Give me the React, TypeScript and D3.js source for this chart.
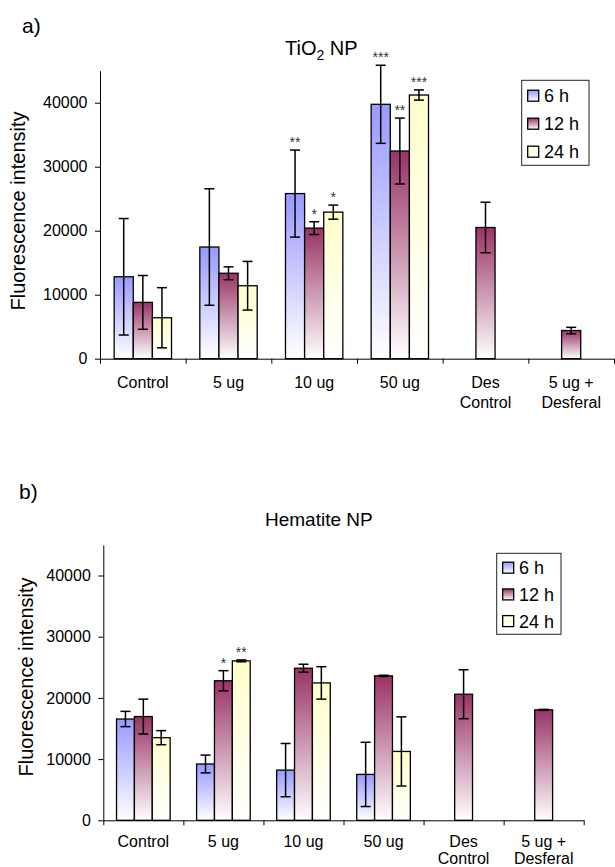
import React, { useEffect, useRef } from "react";
import * as d3 from "d3";

const categories = ["Control", "5 ug", "10 ug", "50 ug", "Des\nControl", "5 ug +\nDesferal"];
const seriesNames = ["6 h", "12 h", "24 h"];
const yTicks = [0, 10000, 20000, 30000, 40000];
const yMax = 45000;

// a) TiO2 NP
const tio2Mean6h = [12800, 17450, 25800, 39750, null, null];
const tio2Err6h = [9100, 9100, 6800, 6100, null, null];
const tio2Mean12h = [8800, 13350, 20400, 32450, 20500, 4400];
const tio2Err12h = [4200, 1000, 1000, 5150, 3950, 500];
const tio2Mean24h = [6400, 11400, 22900, 41200, null, null];
const tio2Err24h = [4700, 3800, 1100, 800, null, null];
const tio2Stars6h = ["", "", "**", "***", "", ""];
const tio2Stars12h = ["", "", "*", "**", "", ""];
const tio2Stars24h = ["", "", "*", "***", "", ""];

// b) Hematite NP
const hemMean6h = [16550, 9200, 8200, 7500, null, null];
const hemErr6h = [1250, 1450, 4350, 5250, null, null];
const hemMean12h = [16950, 22800, 24850, 23600, 20600, 18050];
const hemErr12h = [2850, 1650, 650, 100, 4000, 80];
const hemMean24h = [13500, 26050, 22450, 11250, null, null];
const hemErr24h = [1150, 150, 2650, 5650, null, null];
const hemStars6h = ["", "", "", "", "", ""];
const hemStars12h = ["", "*", "", "", "", ""];
const hemStars24h = ["", "**", "", "", "", ""];

const barColors = ["#9999ff", "#993366", "#ffffcc"];
const FONT = "'Liberation Sans', Arial, Helvetica, sans-serif";

const panels = [
  {
    letter: "a)", letterX: 22, letterY: 33,
    title: ["TiO", "2", " NP"], titleX: 285, titleY: 55,
    means: [tio2Mean6h, tio2Mean12h, tio2Mean24h],
    errs: [tio2Err6h, tio2Err12h, tio2Err24h],
    stars: [tio2Stars6h, tio2Stars12h, tio2Stars24h],
    left: 100, right: 614, zero: 358.7, top: 70.7,
    ylabX: 25, ylabY: 211,
    labelY: 388, lineGap: 20,
    legend: { x: 521.7, y: 80.3, w: 67.3, h: 85, row0: 95.7, rowGap: 28, swX: 527.7, txX: 544 },
  },
  {
    letter: "b)", letterX: 19, letterY: 499,
    title: ["Hematite NP"], titleX: 265, titleY: 526,
    means: [hemMean6h, hemMean12h, hemMean24h],
    errs: [hemErr6h, hemErr12h, hemErr24h],
    stars: [hemStars6h, hemStars12h, hemStars24h],
    left: 103.3, right: 583.7, zero: 820.3, top: 544.9,
    ylabX: 33, ylabY: 677,
    labelY: 847, lineGap: 16.5,
    legend: { x: 496.7, y: 553.3, w: 64.3, h: 81, row0: 567.7, rowGap: 26.7, swX: 502.7, txX: 519 },
  },
];

function drawPanel(svg: any, p: any) {
  const x = d3.scaleBand().domain(categories).range([p.left, p.right]).paddingInner(0).paddingOuter(0);
  const xs = d3.scaleBand().domain(seriesNames).range([0, x.bandwidth()]).paddingInner(0).paddingOuter(0.74);
  const y = d3.scaleLinear().domain([0, yMax]).range([p.zero, p.top]);
  const g = svg.append("g");

  // bars
  seriesNames.forEach((s, si) => {
    categories.forEach((c, ci) => {
      const v = p.means[si][ci];
      if (v == null) return;
      g.append("rect")
        .attr("x", x(c)! + xs(s)!)
        .attr("y", y(v))
        .attr("width", xs.bandwidth())
        .attr("height", y(0) - y(v))
        .attr("fill", "url(#grad" + si + ")")
        .attr("stroke", "#000")
        .attr("stroke-width", 1.3);
    });
  });

  // error bars + stars
  seriesNames.forEach((s, si) => {
    categories.forEach((c, ci) => {
      const v = p.means[si][ci];
      const e = p.errs[si][ci];
      if (v == null) return;
      const cx = x(c)! + xs(s)! + xs.bandwidth() / 2;
      const eb = g.append("g").attr("stroke", "#000").attr("stroke-width", 1.5);
      eb.append("line").attr("x1", cx).attr("x2", cx).attr("y1", y(v - e)).attr("y2", y(v + e));
      eb.append("line").attr("x1", cx - 5).attr("x2", cx + 5).attr("y1", y(v - e)).attr("y2", y(v - e));
      eb.append("line").attr("x1", cx - 5).attr("x2", cx + 5).attr("y1", y(v + e)).attr("y2", y(v + e));
      const st = p.stars[si][ci];
      if (st) {
        g.append("text")
          .attr("x", cx)
          .attr("y", y(v + e) - 3)
          .attr("text-anchor", "middle")
          .attr("font-family", FONT)
          .attr("font-size", 14)
          .attr("fill", "#333")
          .text(st);
      }
    });
  });

  // y axis
  const yAxis = d3.axisLeft(y).tickValues(yTicks).tickSize(5).tickSizeOuter(0).tickPadding(7.5).tickFormat(d3.format("d"));
  const ya = svg.append("g").attr("transform", "translate(" + p.left + ",0)").call(yAxis);
  ya.selectAll("text").attr("font-size", 16).attr("font-family", FONT).attr("fill", "#000");
  ya.selectAll("line, path").attr("stroke", "#000");

  // x axis: ticks between categories
  const xi = d3.scaleLinear().domain([0, categories.length]).range([p.left, p.right]);
  const xAxis = d3.axisBottom(xi).tickValues(d3.range(categories.length + 1)).tickSize(5).tickSizeOuter(0).tickFormat(() => "");
  const xa = svg.append("g").attr("transform", "translate(0," + p.zero + ")").call(xAxis);
  xa.selectAll("line, path").attr("stroke", "#000");

  categories.forEach((c) => {
    const t = svg.append("text")
      .attr("x", x(c)! + x.bandwidth() / 2)
      .attr("y", p.labelY)
      .attr("text-anchor", "middle")
      .attr("font-family", FONT)
      .attr("font-size", 16)
      .attr("fill", "#000");
    c.split("\n").forEach((line, i) => {
      t.append("tspan").attr("x", x(c)! + x.bandwidth() / 2).attr("dy", i === 0 ? 0 : p.lineGap).text(line);
    });
  });

  // y label
  svg.append("text")
    .attr("transform", "translate(" + p.ylabX + "," + p.ylabY + ") rotate(-90)")
    .attr("text-anchor", "middle")
    .attr("font-family", FONT)
    .attr("font-size", 20)
    .attr("fill", "#000")
    .text("Fluorescence intensity");

  // title
  const tt = svg.append("text")
    .attr("x", p.titleX)
    .attr("y", p.titleY)
    .attr("font-family", FONT)
    .attr("font-size", 20)
    .attr("fill", "#000");
  if (p.title.length === 3) {
    tt.append("tspan").text(p.title[0]);
    tt.append("tspan").attr("font-size", 14).attr("dy", 5).text(p.title[1]);
    tt.append("tspan").attr("dy", -5).text(p.title[2]);
  } else {
    tt.attr("font-size", 19).text(p.title[0]);
  }

  svg.append("text")
    .attr("x", p.letterX)
    .attr("y", p.letterY)
    .attr("font-family", FONT)
    .attr("font-size", 21)
    .attr("fill", "#000")
    .text(p.letter);

  // legend
  const L = p.legend;
  svg.append("rect")
    .attr("x", L.x).attr("y", L.y).attr("width", L.w).attr("height", L.h)
    .attr("fill", "#fff").attr("stroke", "#222").attr("stroke-width", 1);
  seriesNames.forEach((s, si) => {
    const cy = L.row0 + si * L.rowGap;
    svg.append("rect")
      .attr("x", L.swX).attr("y", cy - 5.5).attr("width", 11).attr("height", 11)
      .attr("fill", "url(#grad" + si + ")").attr("stroke", "#000").attr("stroke-width", 1.3);
    svg.append("text")
      .attr("x", L.txX).attr("y", cy + 6.5)
      .attr("font-family", FONT).attr("font-size", 18).attr("fill", "#000")
      .text(s);
  });
}

function draw(el: SVGSVGElement) {
  const svg = d3.select(el);
  svg.selectAll("*").remove();
  const defs = svg.append("defs");
  barColors.forEach((c, i) => {
    const gr = defs.append("linearGradient").attr("id", "grad" + i)
      .attr("x1", 0).attr("y1", 0).attr("x2", 0).attr("y2", 1);
    gr.append("stop").attr("offset", "0%").attr("stop-color", c);
    gr.append("stop").attr("offset", "100%").attr("stop-color", "#ffffff");
  });
  panels.forEach((p) => drawPanel(svg, p));
}

export default function App() {
  const ref = useRef<SVGSVGElement>(null);
  useEffect(() => {
    if (ref.current) draw(ref.current);
  }, []);
  return (
    <svg
      ref={ref}
      width={615}
      height={867}
      style={{ position: "absolute", left: 0, top: 0, background: "#fff" }}
    />
  );
}
